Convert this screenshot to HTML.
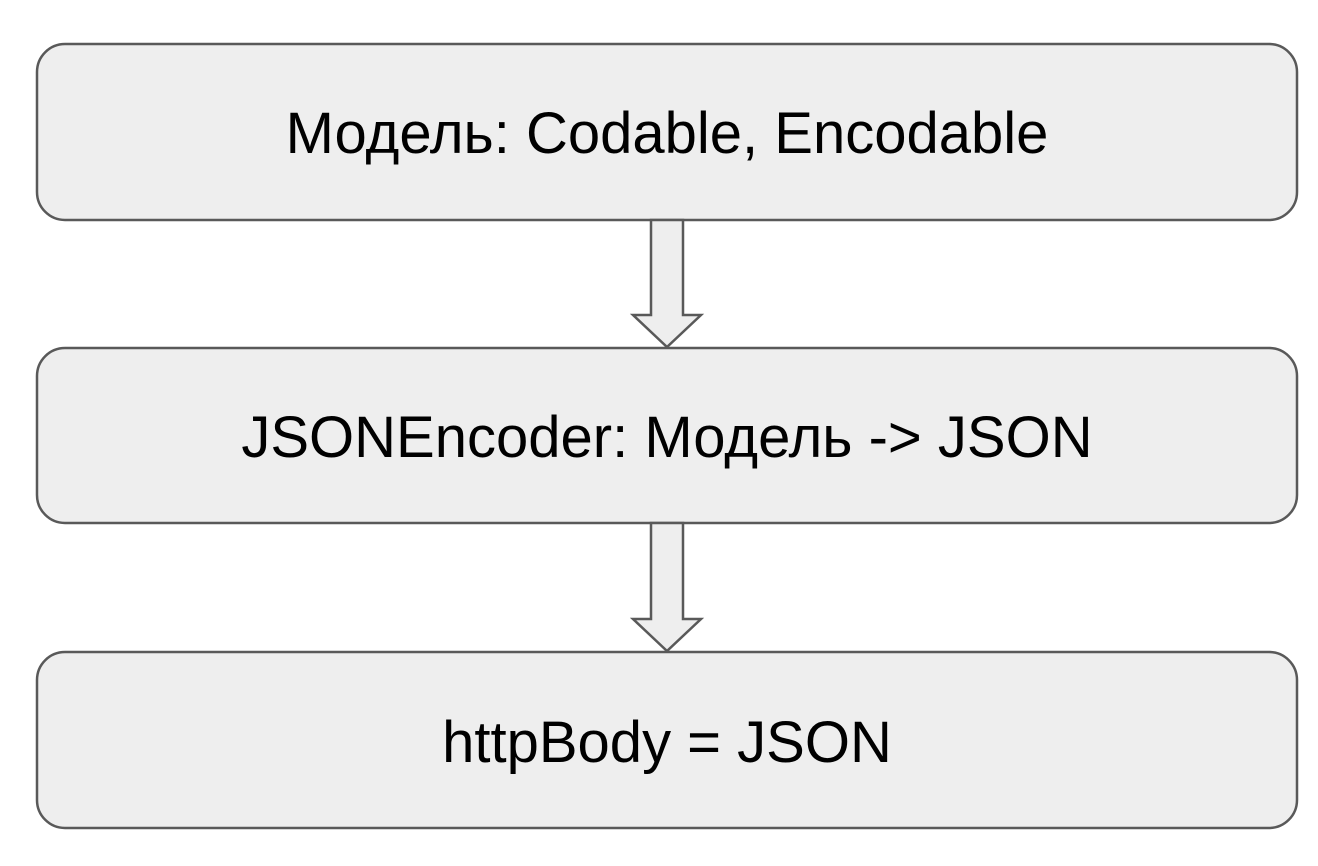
<!DOCTYPE html>
<html><head><meta charset="utf-8"><style>
html,body{margin:0;padding:0;background:#fff;}
svg{display:block;}
text{font-family:"Liberation Sans",Arial,sans-serif;font-size:58px;fill:#000;}
</style></head><body>
<svg width="1318" height="866" viewBox="0 0 1318 866">
<g fill="#eeeeee" stroke="#595959" stroke-width="2.5">
<rect x="37" y="44" width="1260" height="176" rx="28"/>
<rect x="37" y="348" width="1260" height="175" rx="28"/>
<rect x="37" y="652" width="1260" height="176" rx="28"/>
<polygon points="651,220 683,220 683,315 701,315 667,347 633,315 651,315" stroke-linejoin="miter"/>
<polygon points="651,523 683,523 683,619 701,619 667,651 633,619 651,619" stroke-linejoin="miter"/>
</g>
<text x="667" y="153" text-anchor="middle">Модель: Codable, Encodable</text>
<text x="667" y="457" text-anchor="middle">JSONEncoder: Модель -&gt; JSON</text>
<text x="667" y="762" text-anchor="middle">httpBody = JSON</text>
</svg>
</body></html>
